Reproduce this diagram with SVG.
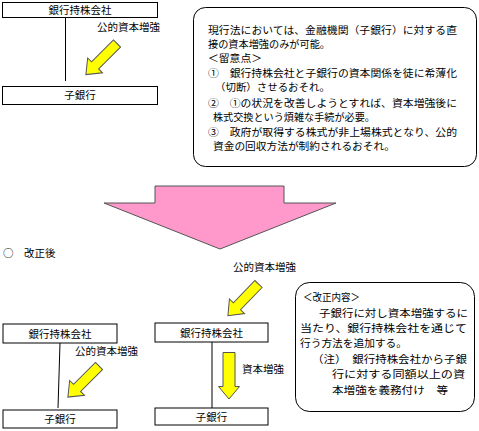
<svg xmlns="http://www.w3.org/2000/svg" width="479" height="431" viewBox="0 0 479 431">
<style>
text{font-family:"Noto Sans CJK JP","Noto Sans",sans-serif;font-size:10.5px;fill:#000}
.n{font-size:10px}
.c{text-anchor:middle}
.box{fill:#fff;stroke:#000;stroke-width:1}
.note{fill:#fff;stroke:#000;stroke-width:1}
.ln{stroke:#000;stroke-width:1;fill:none}
.ya{fill:#ffff00;stroke:#555;stroke-width:1}
</style>
<defs>
<path id="diag" d="M0,-5 L31,-5 L31,-10.5 L44,0 L31,10.5 L31,5 L0,5 Z"/>
</defs>
<rect width="479" height="431" fill="#fff"/>

<g id="connectors">
<line class="ln" x1="65.5" y1="17" x2="65.5" y2="81"/>
<line class="ln" x1="60" y1="343" x2="58" y2="408"/>
<line class="ln" x1="212" y1="342" x2="212" y2="408"/>
</g>

<g id="top-holding"><rect class="box" x="2.5" y="2.5" width="155" height="15"/><text class="c" x="80" y="14">銀行持株会社</text></g>
<g id="top-bank"><rect class="box" x="2.5" y="86.5" width="155" height="18"/><text class="c" x="80" y="99">子銀行</text></g>
<g id="top-injection"><use href="#diag" class="ya" transform="translate(117,43.5) rotate(135)"/><text x="97" y="31">公的資本増強</text></g>

<g id="note-current">
<rect class="note" x="193.5" y="7.5" width="283" height="159" rx="12"/>
<text class="n" x="208" y="34" textLength="249" lengthAdjust="spacingAndGlyphs">現行法においては、金融機関（子銀行）に対する直</text>
<text class="n" x="208" y="48" textLength="122" lengthAdjust="spacingAndGlyphs">接の資本増強のみが可能。</text>
<text class="n" x="208" y="61.5" textLength="54" lengthAdjust="spacingAndGlyphs">＜留意点＞</text>
<text class="n" x="208" y="77" textLength="249" lengthAdjust="spacingAndGlyphs">①　銀行持株会社と子銀行の資本関係を徒に希薄化</text>
<text class="n" x="215" y="91" textLength="115" lengthAdjust="spacingAndGlyphs">（切断）させるおそれ。</text>
<text class="n" x="208" y="107" textLength="249" lengthAdjust="spacingAndGlyphs">②　①の状況を改善しようとすれば、資本増強後に</text>
<text class="n" x="213" y="121" textLength="162" lengthAdjust="spacingAndGlyphs">株式交換という煩雑な手続が必要。</text>
<text class="n" x="208" y="136" textLength="249" lengthAdjust="spacingAndGlyphs">③　政府が取得する株式が非上場株式となり、公的</text>
<text class="n" x="213" y="150" textLength="182" lengthAdjust="spacingAndGlyphs">資金の回収方法が制約されるおそれ。</text>
</g>

<g id="big-arrow">
<polygon points="155,186 284,186 284,203 336,203 220,249 104,203 155,203" fill="#ff99cc" stroke="#555" stroke-width="1"/>
</g>

<g id="after-label"><text x="3" y="257">○</text><text x="24" y="257">改正後</text></g>

<g id="mid-injection"><use href="#diag" class="ya" transform="translate(258.5,284) rotate(134)"/><text x="233" y="271">公的資本増強</text></g>

<g id="bl-holding"><rect class="box" x="3" y="324" width="114" height="19"/><text class="c" x="60" y="337.5">銀行持株会社</text></g>
<g id="bl-bank"><rect class="box" x="3" y="410" width="114" height="18"/><text class="c" x="60" y="423">子銀行</text></g>
<g id="bl-injection"><use href="#diag" class="ya" transform="translate(99,366) rotate(135)"/><text x="75" y="355">公的資本増強</text></g>

<g id="mid-holding"><rect class="box" x="155" y="323" width="113" height="19"/><text class="c" x="211.5" y="336.5">銀行持株会社</text></g>
<g id="mid-bank"><rect class="box" x="155" y="408" width="113" height="17"/><text class="c" x="211.5" y="420.5">子銀行</text></g>
<g id="mid-capital"><polygon class="ya" points="223,352.5 235,352.5 235,386.5 239.5,386.5 229,399 218.5,386.5 223,386.5"/><text x="242" y="373">資本増強</text></g>

<g id="note-revision">
<rect class="note" x="295.5" y="282.5" width="179" height="129" rx="14"/>
<text x="303" y="301" textLength="57" lengthAdjust="spacingAndGlyphs">＜改正内容＞</text>
<text x="319" y="317" textLength="149" lengthAdjust="spacingAndGlyphs">子銀行に対し資本増強するに</text>
<text x="300" y="332" textLength="167" lengthAdjust="spacingAndGlyphs">当たり、銀行持株会社を通じて</text>
<text x="300" y="347" textLength="107" lengthAdjust="spacingAndGlyphs">行う方法を追加する。</text>
<text x="312" y="363" textLength="155" lengthAdjust="spacingAndGlyphs">（注）　銀行持株会社から子銀</text>
<text x="332" y="378" textLength="133" lengthAdjust="spacingAndGlyphs">行に対する同額以上の資</text>
<text x="332" y="394" textLength="116" lengthAdjust="spacingAndGlyphs">本増強を義務付け　等</text>
</g>
</svg>
